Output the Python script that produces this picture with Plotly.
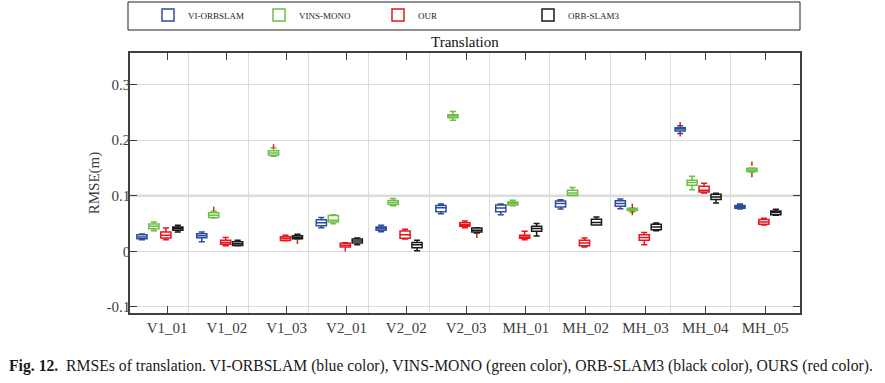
import plotly.graph_objects as go

categories = ["V1_01", "V1_02", "V1_03", "V2_01", "V2_02", "V2_03",
              "MH_01", "MH_02", "MH_03", "MH_04", "MH_05"]

methods = ["VI-ORBSLAM", "VINS-MONO", "OUR", "ORB-SLAM3"]
colors = ["#2E4C9C", "#6CBE45", "#E8141E", "#1A1A1A"]
offsets = [-0.42, -0.22, -0.02, 0.18]

# box statistics per method (None = no result)
vi_lo  = [0.021, 0.0173, None, 0.0425, 0.0353, 0.0676, 0.066, 0.076, 0.0766, 0.212, 0.0763]
vi_q1  = [0.0227, 0.0245, None, 0.046, 0.0378, 0.0712, 0.0712, 0.0797, 0.081, 0.2166, 0.0776]
vi_med = [0.026, 0.028, None, 0.0514, 0.041, 0.0784, 0.078, 0.086, 0.086, 0.220, 0.080]
vi_q3  = [0.030, 0.0317, None, 0.0568, 0.0437, 0.0827, 0.0833, 0.0905, 0.091, 0.2226, 0.0825]
vi_hi  = [0.031, 0.0347, None, 0.061, 0.0468, 0.085, 0.085, 0.093, 0.094, 0.226, 0.085]

vm_lo  = [0.037, 0.060, 0.171, 0.0497, 0.082, 0.236, 0.082, 0.1005, 0.071, 0.111, 0.1425]
vm_q1  = [0.0407, 0.061, 0.173, 0.0527, 0.0845, 0.2405, 0.0835, 0.101, 0.0735, 0.119, 0.1435]
vm_med = [0.045, 0.065, 0.177, 0.056, 0.088, 0.2435, 0.0865, 0.105, 0.0755, 0.124, 0.1465]
vm_q3  = [0.049, 0.0694, 0.181, 0.0647, 0.0917, 0.246, 0.089, 0.110, 0.0775, 0.128, 0.1495]
vm_hi  = [0.053, 0.072, 0.186, 0.066, 0.0953, 0.2518, 0.092, 0.115, 0.078, 0.135, 0.150]

our_lo  = [0.021, 0.010, 0.019, 0.0077, 0.022, 0.0425, 0.021, 0.0077, 0.012, 0.105, 0.0475]
our_q1  = [0.024, 0.0126, 0.0195, 0.008, 0.0234, 0.045, 0.0234, 0.010, 0.0198, 0.107, 0.0487]
our_med = [0.029, 0.016, 0.023, 0.011, 0.030, 0.048, 0.026, 0.015, 0.025, 0.110, 0.053]
our_q3  = [0.0347, 0.0198, 0.0263, 0.0144, 0.0365, 0.0514, 0.029, 0.0198, 0.030, 0.117, 0.0572]
our_hi  = [0.042, 0.025, 0.0288, 0.0155, 0.0396, 0.0545, 0.036, 0.024, 0.034, 0.1227, 0.0596]

orb_lo  = [0.035, 0.010, 0.022, 0.012, 0.001, 0.033, 0.0275, 0.0473, 0.037, 0.087, 0.065]
orb_q1  = [0.038, 0.0105, 0.0225, 0.015, 0.0065, 0.0347, 0.036, 0.0475, 0.039, 0.0933, 0.066]
orb_med = [0.041, 0.0137, 0.025, 0.0186, 0.012, 0.038, 0.041, 0.052, 0.044, 0.098, 0.070]
orb_q3  = [0.044, 0.0173, 0.028, 0.022, 0.016, 0.042, 0.045, 0.0576, 0.0486, 0.1029, 0.0727]
orb_hi  = [0.047, 0.0198, 0.0306, 0.024, 0.0198, 0.0425, 0.050, 0.0617, 0.051, 0.1047, 0.0758]

# outliers: (method index, category index, value)
out_method = [1, 1, 3, 2, 3, 1, 1, 0, 0, 1, 1]
out_cat    = [1, 2, 2, 3, 5, 8, 8, 9, 9, 10, 10]
out_val    = [0.0766, 0.189, 0.017, 0.0036, 0.028, 0.082, 0.069, 0.229, 0.2106, 0.158, 0.137]

stats = [
    (vi_lo, vi_q1, vi_med, vi_q3, vi_hi),
    (vm_lo, vm_q1, vm_med, vm_q3, vm_hi),
    (our_lo, our_q1, our_med, our_q3, our_hi),
    (orb_lo, orb_q1, orb_med, orb_q3, orb_hi),
]

W, H = 885, 383
PL, PR, PT, PB = 130, 800, 53, 313   # plot box in px
L, R, T, B = PL, W - PR, PT, H - PB
pw = PR - PL
ph = PB - PT


def px_x(sx):
    return (sx - PL) / pw


def px_y(sy):
    return (PB - sy) / ph


# legend text-start positions (px)
legend_text_px = [188, 299, 418, 568]

fig = go.Figure()
legend_names = ["legend", "legend2", "legend3", "legend4"]
for m, (lo, q1, med, q3, hi) in enumerate(stats):
    xs, a, b, c, d, e = [], [], [], [], [], []
    for i in range(len(categories)):
        if med[i] is None:
            continue
        xs.append(i + 1 + offsets[m])
        a.append(lo[i]); b.append(q1[i]); c.append(med[i]); d.append(q3[i]); e.append(hi[i])
    fig.add_trace(go.Box(
        x=xs, lowerfence=a, q1=b, median=c, q3=d, upperfence=e,
        name=methods[m], width=0.17, whiskerwidth=0.6,
        line=dict(color=colors[m], width=1.5),
        fillcolor="rgba(255,255,255,0)",
        boxpoints=False, legend=legend_names[m],
    ))

ox = [out_cat[k] + 1 + offsets[out_method[k]] for k in range(len(out_val))]
fig.add_trace(go.Scatter(
    x=ox, y=out_val, mode="markers", showlegend=False,
    marker=dict(symbol="line-ns-open", size=3, color="#E8141E",
                line=dict(color="#E8141E", width=1.5)),
))

# dummy trace for secondary x grid axis
fig.add_trace(go.Scatter(x=[None], y=[None], xaxis="x2", showlegend=False, hoverinfo="skip"))

axis_font = dict(family="Liberation Serif", size=15, color="#404040")

fig.update_layout(
    width=W, height=H,
    margin=dict(l=L, r=R, t=T, b=B, autoexpand=False),
    paper_bgcolor="white", plot_bgcolor="white",
    boxmode="overlay",
    showlegend=True,
    xaxis=dict(
        range=[0.38, 11.584], tickmode="array",
        tickvals=list(range(1, len(categories) + 1)), ticktext=categories,
        showgrid=False, zeroline=False, automargin=False,
        showline=True, linecolor="#404040", linewidth=1.5, mirror="ticks",
        ticks="inside", ticklen=7, tickcolor="#404040", tickwidth=1.2,
        tickfont=axis_font,
    ),
    xaxis2=dict(
        overlaying="x", range=[0.038, 11.15], tickmode="array",
        tickvals=list(range(1, 11)), showticklabels=False, ticks="",
        showgrid=True, gridcolor="#DCDCDC", gridwidth=1,
        showline=False, zeroline=False, automargin=False,
    ),
    yaxis=dict(
        range=[-0.111, 0.357], tickmode="array",
        tickvals=[-0.1, 0, 0.1, 0.2, 0.3], ticktext=["-0.1", "0", "0.1", "0.2", "0.3"],
        showgrid=True, gridcolor="#DCDCDC", gridwidth=1, zeroline=False, automargin=False,
        showline=True, linecolor="#404040", linewidth=1.5, mirror="ticks",
        ticks="inside", ticklen=7, tickcolor="#404040", tickwidth=1.2,
        tickfont=axis_font, ticklabelstandoff=-5,
        title=dict(text="RMSE(m)", font=dict(family="Liberation Serif", size=15, color="#404040"), standoff=3),
    ),
)

# four legends, one per method
for m, ln in enumerate(legend_names):
    fig.update_layout(**{ln: dict(
        x=px_x(legend_text_px[m] - 40), y=px_y(15),
        xanchor="left", yanchor="middle", orientation="h",
        bgcolor="rgba(0,0,0,0)", borderwidth=0,
        font=dict(family="Liberation Serif", size=9, color="#222222"),
    )})

# legend frame and thicker 0.1 gridline
fig.add_shape(type="rect", xref="paper", yref="paper",
              x0=px_x(128), x1=px_x(800), y0=px_y(30), y1=px_y(2),
              line=dict(color="#222222", width=1), fillcolor="rgba(0,0,0,0)")
fig.add_shape(type="line", xref="paper", yref="y", x0=0, x1=1, y0=0.1, y1=0.1,
              line=dict(color="#DCDCDC", width=2.5), layer="below")

fig.add_annotation(text="Translation", xref="paper", yref="paper",
                   x=0.5, y=px_y(42), xanchor="center", yanchor="middle",
                   showarrow=False, font=dict(family="Liberation Serif", size=15, color="#111111"))

fig.add_annotation(
    text="<b>Fig. 12.</b>  RMSEs of translation. VI-ORBSLAM (blue color), VINS-MONO (green color), ORB-SLAM3 (black color), OURS (red color).",
    xref="paper", yref="paper", x=px_x(7), y=px_y(366),
    xanchor="left", yanchor="middle", showarrow=False,
    font=dict(family="Liberation Serif", size=15.7, color="#1A1A1A"))

fig.write_html("out.html", config={"displayModeBar": False},
               post_script="document.body.style.margin='0px';document.body.style.overflow='hidden';")
